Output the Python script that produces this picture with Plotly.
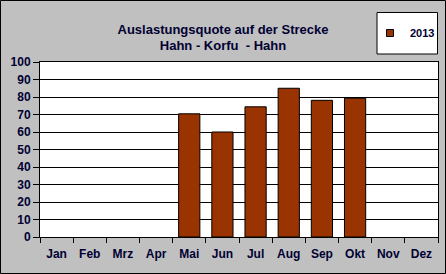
import plotly.graph_objects as go

months = ["Jan", "Feb", "Mrz", "Apr", "Mai", "Jun", "Jul", "Aug", "Sep", "Okt", "Nov", "Dez"]
values_2013 = [None, None, None, None, 70.4, 60, 74.4, 85, 78.1, 79.3, None, None]
y_ticks = [0, 10, 20, 30, 40, 50, 60, 70, 80, 90, 100]
series_name = "2013"
title_lines = ["Auslastungsquote auf der Strecke", "Hahn - Korfu  - Hahn"]

W, H = 446, 274
L, R, T, B = 40, 8, 62, 37
pw, ph = W - L - R, H - T - B

def px(x):
    return (x - L) / pw

def py(y):
    return (H - B - y) / ph

bar_color = "#993300"
txt_color = "#000033"
font_fam = "Arial, Liberation Sans, sans-serif"

fig = go.Figure()
fig.add_trace(go.Bar(
    x=months, y=values_2013, name=series_name,
    marker=dict(color=bar_color, line=dict(color="black", width=1)),
    showlegend=False,
))
fig.add_trace(go.Scatter(
    x=[None], y=[None], mode="markers", name=series_name,
    marker=dict(symbol="square", size=7, color=bar_color, line=dict(color="black", width=1)),
))

fig.update_layout(
    width=W, height=H,
    margin=dict(l=L, r=R, t=T, b=B, pad=0, autoexpand=False),
    paper_bgcolor="#C0C0C0",
    plot_bgcolor="white",
    bargap=0.36,
    font=dict(family=font_fam, color=txt_color, size=12),
    title=dict(
        text="<br>".join(title_lines),
        x=px(223), xanchor="center", xref="paper",
        y=1 - 33.5 / H, yanchor="middle",
        font=dict(size=13, weight="bold", color=txt_color, family=font_fam),
    ),
    showlegend=True,
    legend=dict(
        x=px(370), y=py(33), xanchor="left", yanchor="middle",
        bgcolor="rgba(0,0,0,0)", borderwidth=0,
        font=dict(size=11, weight="bold", color=txt_color, family=font_fam),
        itemwidth=30,
    ),
    shapes=[
        dict(type="rect", xref="paper", yref="paper",
             x0=px(377), x1=px(437.5), y0=py(54), y1=py(12.5),
             line=dict(color="black", width=1), fillcolor="white", layer="below"),
        dict(type="rect", xref="paper", yref="paper",
             x0=px(0.5), x1=px(W - 0.5), y0=py(H - 0.5), y1=py(0.5),
             line=dict(color="black", width=1), fillcolor="rgba(0,0,0,0)"),
    ],
)

fig.update_xaxes(
    type="category", categoryarray=months,
    showline=True, linecolor="black", linewidth=1, mirror=True,
    ticks="outside", tickson="boundaries", ticklen=5, tickcolor="black",
    tickfont=dict(size=12, weight="bold", color=txt_color, family=font_fam),
    tickangle=0, automargin=False,
    ticklabelstandoff=6,
    showgrid=False,
)
fig.update_yaxes(
    range=[0, 100], tickvals=y_ticks,
    showline=True, linecolor="black", linewidth=1, mirror=True,
    ticks="outside", ticklen=6, tickcolor="black",
    tickfont=dict(size=12, weight="bold", color=txt_color, family=font_fam),
    automargin=False,
    showgrid=True, gridcolor="black", gridwidth=1,
    zeroline=False,
)

fig.write_html("out.html")
